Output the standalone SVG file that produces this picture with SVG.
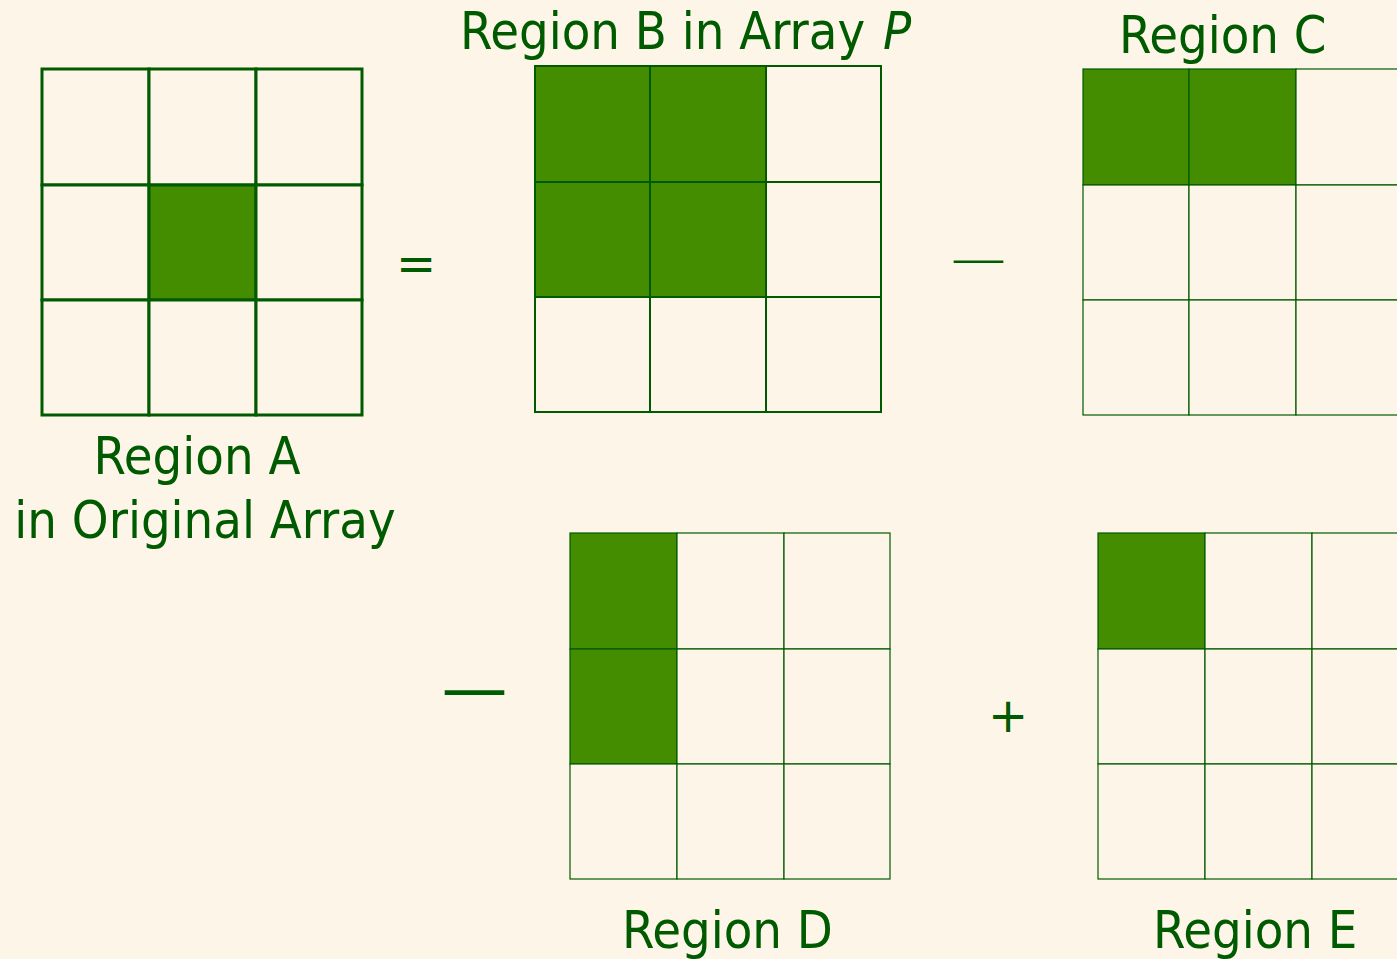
<svg xmlns="http://www.w3.org/2000/svg" width="1397" height="959" viewBox="0 0 1397 959">
<style>
.lbl{font-family:"DejaVu Sans Condensed","DejaVu Sans",sans-serif;font-stretch:condensed;font-size:52px;fill:#005a00}
.op{font-family:"DejaVu Sans",sans-serif;fill:#005a00}
.cellw{fill:#fdf5e8;stroke:#005a00}
.cellg{fill:#448c00;stroke:#005a00}
.a rect{stroke-width:3}
.b rect{stroke-width:2}
.c rect,.d rect,.e rect{stroke-width:1.2}
</style>
<rect width="1397" height="959" fill="#fdf5e8"/>

<g id="regionA" class="a">
<rect class="cellw" x="42" y="69" width="107" height="116"/>
<rect class="cellw" x="149" y="69" width="107" height="116"/>
<rect class="cellw" x="256" y="69" width="106" height="116"/>
<rect class="cellw" x="42" y="185" width="107" height="115"/>
<rect class="cellg" x="149" y="185" width="107" height="115"/>
<rect class="cellw" x="256" y="185" width="106" height="115"/>
<rect class="cellw" x="42" y="300" width="107" height="115"/>
<rect class="cellw" x="149" y="300" width="107" height="115"/>
<rect class="cellw" x="256" y="300" width="106" height="115"/>
<text class="lbl" x="197" y="474" text-anchor="middle">Region A</text>
<text class="lbl" x="205" y="538" text-anchor="middle">in Original Array</text>
</g>

<g id="regionB" class="b">
<rect class="cellg" x="535" y="66" width="115" height="116"/>
<rect class="cellg" x="650" y="66" width="116" height="116"/>
<rect class="cellw" x="766" y="66" width="115" height="116"/>
<rect class="cellg" x="535" y="182" width="115" height="115"/>
<rect class="cellg" x="650" y="182" width="116" height="115"/>
<rect class="cellw" x="766" y="182" width="115" height="115"/>
<rect class="cellw" x="535" y="297" width="115" height="115"/>
<rect class="cellw" x="650" y="297" width="116" height="115"/>
<rect class="cellw" x="766" y="297" width="115" height="115"/>
<text class="lbl" x="460" y="49" font-size="53">Region B in Array <tspan dx="3" font-style="italic">P</tspan></text>
</g>

<g id="regionC" class="c">
<rect class="cellg" x="1083" y="69" width="106" height="116"/>
<rect class="cellg" x="1189" y="69" width="107" height="116"/>
<rect class="cellw" x="1296" y="69" width="107" height="116"/>
<rect class="cellw" x="1083" y="185" width="106" height="115"/>
<rect class="cellw" x="1189" y="185" width="107" height="115"/>
<rect class="cellw" x="1296" y="185" width="107" height="115"/>
<rect class="cellw" x="1083" y="300" width="106" height="115"/>
<rect class="cellw" x="1189" y="300" width="107" height="115"/>
<rect class="cellw" x="1296" y="300" width="107" height="115"/>
<text class="lbl" x="1119" y="53">Region C</text>
</g>

<g id="regionD" class="d">
<rect class="cellg" x="570" y="533" width="107" height="116"/>
<rect class="cellw" x="677" y="533" width="107" height="116"/>
<rect class="cellw" x="784" y="533" width="106" height="116"/>
<rect class="cellg" x="570" y="649" width="107" height="115"/>
<rect class="cellw" x="677" y="649" width="107" height="115"/>
<rect class="cellw" x="784" y="649" width="106" height="115"/>
<rect class="cellw" x="570" y="764" width="107" height="115"/>
<rect class="cellw" x="677" y="764" width="107" height="115"/>
<rect class="cellw" x="784" y="764" width="106" height="115"/>
<text class="lbl" x="622" y="948">Region D</text>
</g>

<g id="regionE" class="e">
<rect class="cellg" x="1098" y="533" width="107" height="116"/>
<rect class="cellw" x="1205" y="533" width="107" height="116"/>
<rect class="cellw" x="1312" y="533" width="107" height="116"/>
<rect class="cellw" x="1098" y="649" width="107" height="115"/>
<rect class="cellw" x="1205" y="649" width="107" height="115"/>
<rect class="cellw" x="1312" y="649" width="107" height="115"/>
<rect class="cellw" x="1098" y="764" width="107" height="115"/>
<rect class="cellw" x="1205" y="764" width="107" height="115"/>
<rect class="cellw" x="1312" y="764" width="107" height="115"/>
<text class="lbl" x="1153" y="948">Region E</text>
</g>

<g id="operators">
<text class="op" x="416" y="280" font-size="48" text-anchor="middle">=</text>
<text x="978.5" y="273" font-family="Liberation Serif, serif" font-size="49" fill="#005a00" text-anchor="middle">—</text>
<text class="op" x="474.5" y="711" font-size="66" text-anchor="middle">—</text>
<text class="op" x="1008" y="732" font-size="48" text-anchor="middle">+</text>
</g>
</svg>
